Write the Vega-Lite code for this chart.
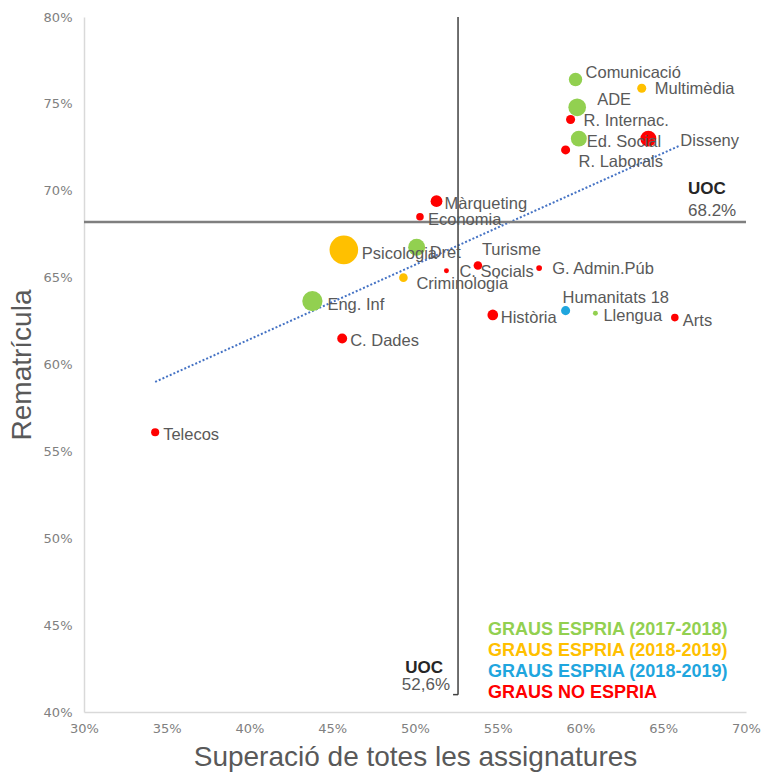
{
  "$schema": "https://vega.github.io/schema/vega-lite/v6.json",
  "width": 662,
  "height": 695,
  "autosize": {"type": "none"},
  "padding": {"left": 84, "top": 17, "right": 15, "bottom": 64},
  "background": "white",
  "config": {
    "view": {"stroke": null},
    "font": "Liberation Sans",
    "axis": {
      "grid": false,
      "ticks": false,
      "labelFlush": false,
      "domainColor": "#d9d9d9",
      "domainWidth": 1.5,
      "labelColor": "#808080",
      "labelFontSize": 13,
      "labelFont": "DejaVu Sans",
      "titleFont": "Liberation Sans",
      "titleColor": "#595959",
      "titleFontSize": 28,
      "titleFontWeight": "normal"
    }
  },
  "datasets": {
    "graus": [
      {"grau": "Comunicació", "x": 59.7, "y": 76.4, "n": 22, "grup": "E1718"},
      {"grau": "Multimèdia", "x": 63.7, "y": 75.9, "n": 10, "grup": "E1819"},
      {"grau": "ADE", "x": 59.8, "y": 74.8, "n": 38, "grup": "E1718"},
      {"grau": "R. Internac.", "x": 59.4, "y": 74.1, "n": 10, "grup": "NO"},
      {"grau": "Ed. Social", "x": 59.9, "y": 73.0, "n": 31, "grup": "E1718"},
      {"grau": "Disseny", "x": 64.1, "y": 73.0, "n": 31, "grup": "NO"},
      {"grau": "R. Laborals", "x": 59.1, "y": 72.35, "n": 10, "grup": "NO"},
      {"grau": "Màrqueting", "x": 51.3, "y": 69.4, "n": 17, "grup": "NO"},
      {"grau": "Economia", "x": 50.3, "y": 68.5, "n": 7, "grup": "NO"},
      {"grau": "Psicologia", "x": 45.7, "y": 66.6, "n": 100, "grup": "E1819"},
      {"grau": "Dret", "x": 50.1, "y": 66.75, "n": 35, "grup": "E1718"},
      {"grau": "Turisme", "x": 53.8, "y": 65.7, "n": 9, "grup": "NO"},
      {"grau": "C. Socials", "x": 51.9, "y": 65.4, "n": 3, "grup": "NO"},
      {"grau": "G. Admin.Púb", "x": 57.5, "y": 65.55, "n": 4, "grup": "NO"},
      {"grau": "Criminologia", "x": 49.3, "y": 65.0, "n": 9, "grup": "E1819"},
      {"grau": "Eng. Inf", "x": 43.8, "y": 63.65, "n": 50, "grup": "E1718"},
      {"grau": "Humanitats 18", "x": 59.1, "y": 63.1, "n": 10, "grup": "E1819b"},
      {"grau": "Llengua", "x": 60.9, "y": 62.95, "n": 3, "grup": "E1718"},
      {"grau": "Història", "x": 54.7, "y": 62.85, "n": 14, "grup": "NO"},
      {"grau": "Arts", "x": 65.7, "y": 62.7, "n": 7, "grup": "NO"},
      {"grau": "C. Dades", "x": 45.6, "y": 61.5, "n": 12, "grup": "NO"},
      {"grau": "Telecos", "x": 34.3, "y": 56.1, "n": 8, "grup": "NO"}
    ],
    "tendencia": [
      {"x": 34.3, "y": 59.0},
      {"x": 66.0, "y": 72.6}
    ],
    "uoc": [
      {"superacio": 52.6, "rematricula": 68.2}
    ]
  },
  "layer": [
    {
      "data": {"name": "tendencia"},
      "mark": {"type": "line", "color": "#4472C4", "strokeWidth": 2, "strokeDash": [2, 2]},
      "encoding": {
        "x": {"field": "x", "type": "quantitative", "scale": {"domain": [30, 70], "nice": false, "zero": false},
          "axis": {"title": "Superació de totes les assignatures", "values": [30, 35, 40, 45, 50, 55, 60, 65, 70], "labelExpr": "datum.value + '%'", "labelPadding": 10, "titlePadding": 8}},
        "y": {"field": "y", "type": "quantitative", "scale": {"domain": [40, 80], "nice": false, "zero": false},
          "axis": {"title": "Rematrícula", "values": [40, 45, 50, 55, 60, 65, 70, 75, 80], "labelExpr": "datum.value + '%'", "labelPadding": 12, "titlePadding": 7}}
      }
    },
    {
      "data": {"name": "uoc"},
      "mark": {"type": "rule", "color": "#7f7f7f", "strokeWidth": 2.5},
      "encoding": {"y": {"datum": 68.2}, "x": {"datum": 30}, "x2": {"datum": 70}}
    },
    {
      "data": {"name": "uoc"},
      "mark": {"type": "rule", "color": "#404040", "strokeWidth": 1.5},
      "encoding": {"x": {"datum": 52.6}, "y": {"datum": 80}, "y2": {"datum": 41}}
    },
    {
      "data": {"name": "uoc"},
      "mark": {"type": "rule", "color": "#404040", "strokeWidth": 1.5},
      "encoding": {"x": {"datum": 52.3}, "x2": {"datum": 52.6}, "y": {"datum": 41}}
    },
    {
      "data": {"name": "graus"},
      "mark": {"type": "circle", "opacity": 1},
      "encoding": {
        "x": {"field": "x", "type": "quantitative", "title": "Superació de totes les assignatures"},
        "y": {"field": "y", "type": "quantitative", "title": "Rematrícula"},
        "size": {"field": "n", "type": "quantitative", "scale": {"domain": [0, 100], "range": [0, 820]}, "legend": null},
        "color": {
          "field": "grup", "type": "nominal",
          "scale": {"domain": ["E1718", "E1819", "E1819b", "NO"], "range": ["#92D050", "#FFC000", "#1FA6DE", "#FF0000"]},
          "legend": {
            "orient": "none", "legendX": 386, "legendY": 604, "title": null,
            "symbolSize": 0, "symbolOpacity": 0, "symbolStrokeWidth": 0, "labelOffset": 0,
            "labelFontSize": 18, "labelFontWeight": "bold", "labelLimit": 400, "rowPadding": 3, "padding": 0,
            "labelExpr": "datum.value == 'E1718' ? 'GRAUS ESPRIA (2017-2018)' : (datum.value == 'NO' ? 'GRAUS NO ESPRIA' : 'GRAUS ESPRIA (2018-2019)')",
            "encode": {"labels": {"update": {"fill": {"scale": "color", "field": "value"}}}}
          }
        }
      }
    },
    {
      "data": {"name": "graus"},
      "transform": [{"filter": {"field": "grau", "oneOf": ["Ed. Social", "Màrqueting", "Economia", "Llengua", "Història", "Arts", "C. Dades", "Telecos"]}}],
      "mark": {"type": "text", "align": "left", "baseline": "middle", "dx": 8, "dy": 3, "fontSize": 16.5, "color": "#595959"},
      "encoding": {"x": {"field": "x", "type": "quantitative"}, "y": {"field": "y", "type": "quantitative"}, "text": {"field": "grau"}}
    },
    {
      "data": {"name": "graus"},
      "transform": [{"filter": {"field": "grau", "oneOf": ["R. Internac.", "G. Admin.Púb", "C. Socials", "Multimèdia"]}}],
      "mark": {"type": "text", "align": "left", "baseline": "middle", "dx": 13, "dy": 1, "fontSize": 16.5, "color": "#595959"},
      "encoding": {"x": {"field": "x", "type": "quantitative"}, "y": {"field": "y", "type": "quantitative"}, "text": {"field": "grau"}}
    },
    {
      "data": {"name": "graus"},
      "transform": [{"filter": {"field": "grau", "oneOf": ["Dret", "Criminologia"]}}],
      "mark": {"type": "text", "align": "left", "baseline": "middle", "dx": 13, "dy": 6, "fontSize": 16.5, "color": "#595959"},
      "encoding": {"x": {"field": "x", "type": "quantitative"}, "y": {"field": "y", "type": "quantitative"}, "text": {"field": "grau"}}
    },
    {
      "data": {"name": "graus"},
      "transform": [{"filter": {"field": "grau", "equal": "Eng. Inf"}}],
      "mark": {"type": "text", "align": "left", "baseline": "middle", "dx": 15, "dy": 4, "fontSize": 16.5, "color": "#595959"},
      "encoding": {"x": {"field": "x", "type": "quantitative"}, "y": {"field": "y", "type": "quantitative"}, "text": {"field": "grau"}}
    },
    {
      "data": {"name": "graus"},
      "transform": [{"filter": {"field": "grau", "equal": "Comunicació"}}],
      "mark": {"type": "text", "align": "left", "baseline": "middle", "dx": 10, "dy": -7, "fontSize": 16.5, "color": "#595959"},
      "encoding": {"x": {"field": "x", "type": "quantitative"}, "y": {"field": "y", "type": "quantitative"}, "text": {"field": "grau"}}
    },
    {
      "data": {"name": "graus"},
      "transform": [{"filter": {"field": "grau", "equal": "ADE"}}],
      "mark": {"type": "text", "align": "left", "baseline": "middle", "dx": 20, "dy": -7, "fontSize": 16.5, "color": "#595959"},
      "encoding": {"x": {"field": "x", "type": "quantitative"}, "y": {"field": "y", "type": "quantitative"}, "text": {"field": "grau"}}
    },
    {
      "data": {"name": "graus"},
      "transform": [{"filter": {"field": "grau", "equal": "Disseny"}}],
      "mark": {"type": "text", "align": "left", "baseline": "middle", "dx": 32, "dy": 2, "fontSize": 16.5, "color": "#595959"},
      "encoding": {"x": {"field": "x", "type": "quantitative"}, "y": {"field": "y", "type": "quantitative"}, "text": {"field": "grau"}}
    },
    {
      "data": {"name": "graus"},
      "transform": [{"filter": {"field": "grau", "equal": "R. Laborals"}}],
      "mark": {"type": "text", "align": "left", "baseline": "middle", "dx": 13, "dy": 12, "fontSize": 16.5, "color": "#595959"},
      "encoding": {"x": {"field": "x", "type": "quantitative"}, "y": {"field": "y", "type": "quantitative"}, "text": {"field": "grau"}}
    },
    {
      "data": {"name": "graus"},
      "transform": [{"filter": {"field": "grau", "equal": "Psicologia"}}],
      "mark": {"type": "text", "align": "left", "baseline": "middle", "dx": 18, "dy": 4, "fontSize": 16.5, "color": "#595959"},
      "encoding": {"x": {"field": "x", "type": "quantitative"}, "y": {"field": "y", "type": "quantitative"}, "text": {"field": "grau"}}
    },
    {
      "data": {"name": "graus"},
      "transform": [{"filter": {"field": "grau", "equal": "Turisme"}}],
      "mark": {"type": "text", "align": "left", "baseline": "middle", "dx": 4, "dy": -15, "fontSize": 16.5, "color": "#595959"},
      "encoding": {"x": {"field": "x", "type": "quantitative"}, "y": {"field": "y", "type": "quantitative"}, "text": {"field": "grau"}}
    },
    {
      "data": {"name": "graus"},
      "transform": [{"filter": {"field": "grau", "equal": "Humanitats 18"}}],
      "mark": {"type": "text", "align": "left", "baseline": "middle", "dx": -3, "dy": -13, "fontSize": 16.5, "color": "#595959"},
      "encoding": {"x": {"field": "x", "type": "quantitative"}, "y": {"field": "y", "type": "quantitative"}, "text": {"field": "grau"}}
    },
    {
      "data": {"name": "uoc"},
      "mark": {"type": "text", "align": "left", "baseline": "middle", "dx": -58, "dy": -33, "fontSize": 17, "fontWeight": "bold", "color": "#262626"},
      "encoding": {"x": {"datum": 70}, "y": {"datum": 68.2}, "text": {"value": "UOC"}}
    },
    {
      "data": {"name": "uoc"},
      "mark": {"type": "text", "align": "left", "baseline": "middle", "dx": -58, "dy": -11, "fontSize": 17, "color": "#595959"},
      "encoding": {"x": {"datum": 70}, "y": {"datum": 68.2}, "text": {"value": "68.2%"}}
    },
    {
      "data": {"name": "uoc"},
      "mark": {"type": "text", "align": "right", "baseline": "middle", "dx": -15, "dy": -44, "fontSize": 17, "fontWeight": "bold", "color": "#262626"},
      "encoding": {"x": {"datum": 52.6}, "y": {"datum": 40}, "text": {"value": "UOC"}}
    },
    {
      "data": {"name": "uoc"},
      "mark": {"type": "text", "align": "right", "baseline": "middle", "dx": -8, "dy": -27, "fontSize": 17, "color": "#595959"},
      "encoding": {"x": {"datum": 52.6}, "y": {"datum": 40}, "text": {"value": "52,6%"}}
    }
  ]
}
